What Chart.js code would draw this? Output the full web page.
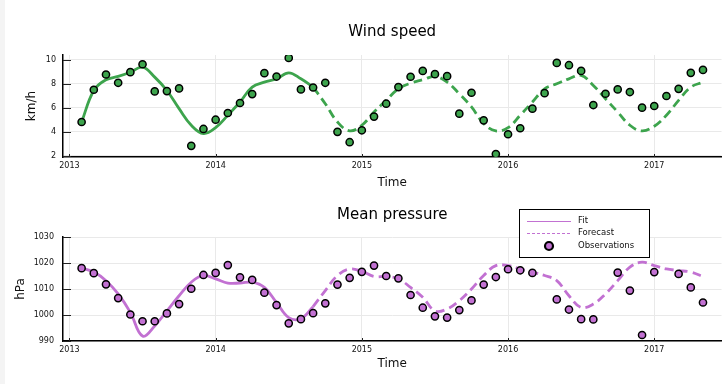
<!DOCTYPE html>
<html>
<head>
<meta charset="utf-8">
<script src="https://cdn.jsdelivr.net/npm/chart.js@4.4.1/dist/chart.umd.min.js"></script>
<style>
  html, body { margin: 0; padding: 0; background: #fff; }
  #wrap { position: relative; width: 727px; height: 384px; overflow: hidden; }
  #edge { position: absolute; left: 0; top: 0; width: 5px; height: 384px; background: #f4f4f4; }
  canvas { position: absolute; left: 0; }
  #windCanvas { top: 0; }
  #pressureCanvas { top: 192px; }
</style>
</head>
<body>
<div id="wrap">
  <div id="edge"></div>
  <canvas id="windCanvas" width="727" height="192"></canvas>
  <canvas id="pressureCanvas" width="727" height="192"></canvas>
</div>
<script>
// Monthly means, Feb 2013 - May 2017
const months = [
  '2013-02','2013-03','2013-04','2013-05','2013-06','2013-07','2013-08','2013-09','2013-10','2013-11','2013-12',
  '2014-01','2014-02','2014-03','2014-04','2014-05','2014-06','2014-07','2014-08','2014-09','2014-10','2014-11','2014-12',
  '2015-01','2015-02','2015-03','2015-04','2015-05','2015-06','2015-07','2015-08','2015-09','2015-10','2015-11','2015-12',
  '2016-01','2016-02','2016-03','2016-04','2016-05','2016-06','2016-07','2016-08','2016-09','2016-10','2016-11','2016-12',
  '2017-01','2017-02','2017-03','2017-04','2017-05'
];
const fitMonths = months.slice(0, 20);        // 2013-02 .. 2014-09
const forecastMonths = months.slice(19);      // 2014-09 .. 2017-05

const yearTicks = [2013, 2014, 2015, 2016, 2017];
const windTicks = [2, 4, 6, 8, 10];
const pressureTicks = [990, 1000, 1010, 1020, 1030];

// Wind speed (km/h)
const windObs = [
  4.81, 7.49, 8.76, 8.07, 8.95, 9.61, 7.35, 7.38, 7.60, 2.83, 4.23,
  5.00, 5.56, 6.39, 7.13, 8.87, 8.59, 10.14, 7.52, 7.68, 8.07, 3.99, 3.13,
  4.12, 5.26, 6.33, 7.71, 8.57, 9.06, 8.79, 8.62, 5.50, 7.24, 4.95, 2.14,
  3.79, 4.29, 5.92, 7.21, 9.72, 9.53, 9.06, 6.22, 7.16, 7.52, 7.30, 6.00,
  6.14, 6.97, 7.57, 8.90, 9.14
];
const windFit = [
  4.80, 7.43, 8.32, 8.60, 8.95, 9.37, 8.54, 7.43, 5.92, 4.54, 3.85,
  4.34, 5.37, 6.47, 7.71, 8.12, 8.40, 8.90, 8.40, 7.71
];
const windForecast = [
  7.71, 6.33, 4.81, 4.07,
  4.54, 5.64, 6.61, 7.57, 8.04, 8.32, 8.60, 8.12, 7.16, 6.06, 4.68, 4.07,
  4.34, 5.37, 6.47, 7.57, 7.99, 8.40, 8.68, 7.85, 6.74, 5.64, 4.54, 4.07,
  4.46, 5.37, 6.61, 7.71, 8.12
];

// Mean pressure (hPa); null = month without a valid reading
const pressureObs = [
  1018.0, 1016.1, 1011.8, 1006.5, 1000.2, 997.6, 997.6, 1000.6, 1004.2, 1010.1, 1015.4,
  1016.2, 1019.2, 1014.5, 1013.5, 1008.6, 1003.8, 996.8, 998.4, 1000.7, 1004.5, 1011.7, 1014.3,
  1016.6, 1019.0, 1015.0, 1014.1, 1007.7, 1002.8, 999.5, 999.0, 1001.9, 1005.6, 1011.7, 1014.6,
  1017.6, 1017.2, 1016.2, null, 1006.0, 1002.1, 998.4, 998.3, null, 1016.3, 1009.4, 992.3,
  1016.5, null, 1015.8, 1010.6, 1004.8
];
const pressureFit = [
  1018.0, 1016.5, 1013.2, 1008.1, 1001.0, 991.9, 995.8, 1001.6, 1007.4, 1012.6, 1015.2,
  1013.9, 1012.3, 1012.3, 1012.6, 1010.6, 1004.8, 999.0, 998.6, 1003.2
];
const pressureForecast = [
  1003.2, 1009.4, 1015.2, 1017.7,
  1016.8, 1014.8, 1014.8, 1013.9, 1010.6, 1006.8, 1001.6, 1002.3, 1005.5, 1010.0, 1015.2, 1019.0,
  1019.0, 1017.7, 1016.5, 1015.2, 1013.2, 1007.4, 1002.9, 1004.2, 1008.1, 1013.2, 1018.4, 1020.3,
  1019.0, 1017.7, 1017.1, 1016.5, 1014.8
];

const GREEN = '#3da44d';
const PURPLE = '#c271d2';
const FONT = 'DejaVu Sans';

// "2014-03" -> 2014 + 2/12 (decimal year on a linear axis)
function monthToYear(m) {
  const [y, mo] = m.split('-').map(Number);
  return y + (mo - 1) / 12;
}
function toPoints(labels, values) {
  return labels.map((m, i) => ({ x: monthToYear(m), y: values[i] }));
}

// Title centred over the plotting area
function titlePlugin(text, y) {
  return {
    id: 'plotTitle',
    afterDraw(chart) {
      const { ctx, chartArea } = chart;
      ctx.save();
      ctx.font = '15px "' + FONT + '"';
      ctx.fillStyle = '#000';
      ctx.textAlign = 'center';
      ctx.textBaseline = 'middle';
      ctx.fillText(text, (chartArea.left + chartArea.right) / 2, y);
      ctx.restore();
    }
  };
}

// Short tick marks pointing into the plotting area
const innerTicks = {
  id: 'innerTicks',
  beforeDatasetsDraw(chart) {
    const { ctx, chartArea, scales } = chart;
    ctx.save();
    ctx.strokeStyle = '#222';
    ctx.lineWidth = 1;
    ctx.beginPath();
    scales.y.ticks.forEach(t => {
      const py = Math.round(scales.y.getPixelForValue(t.value)) + 0.5;
      ctx.moveTo(chartArea.left, py);
      ctx.lineTo(chartArea.left + 8, py);
    });
    scales.x.ticks.forEach(t => {
      const px = Math.round(scales.x.getPixelForValue(t.value)) + 0.5;
      ctx.moveTo(px, chartArea.bottom);
      ctx.lineTo(px, chartArea.bottom - 3);
    });
    ctx.stroke();
    ctx.restore();
  }
};

// Boxed legend in the upper right of the pressure panel
const legendBox = {
  id: 'legendBox',
  afterDraw(chart) {
    const { ctx } = chart;
    const bx = 519, by = 17, bw = 130, bh = 48;
    ctx.save();
    ctx.fillStyle = '#fff';
    ctx.fillRect(bx, by, bw, bh);
    ctx.strokeStyle = '#000';
    ctx.lineWidth = 1;
    ctx.strokeRect(bx + 0.5, by + 0.5, bw, bh);

    ctx.strokeStyle = PURPLE;
    ctx.lineWidth = 1;
    ctx.beginPath();
    ctx.moveTo(527, 29.5); ctx.lineTo(571, 29.5);
    ctx.stroke();
    ctx.setLineDash([3, 2]);
    ctx.beginPath();
    ctx.moveTo(527, 41.5); ctx.lineTo(571, 41.5);
    ctx.stroke();
    ctx.setLineDash([]);

    ctx.beginPath();
    ctx.arc(549, 54, 4, 0, Math.PI * 2);
    ctx.fillStyle = PURPLE;
    ctx.fill();
    ctx.strokeStyle = '#000';
    ctx.lineWidth = 2.2;
    ctx.stroke();

    ctx.fillStyle = '#111';
    ctx.font = '8.5px "' + FONT + '"';
    ctx.textAlign = 'left';
    ctx.textBaseline = 'middle';
    ctx.fillText('Fit', 578, 29);
    ctx.fillText('Forecast', 578, 41);
    ctx.fillText('Observations', 578, 54);
    ctx.restore();
  }
};

function makeChart(canvasId, cfg) {
  const obsPts = toPoints(months, cfg.obs).filter(p => p.y !== null);
  return new Chart(document.getElementById(canvasId), {
    type: 'scatter',
    data: {
      datasets: [
        {
          label: 'Observations',
          data: obsPts,
          backgroundColor: cfg.color,
          borderColor: '#000',
          borderWidth: 1.5,
          pointRadius: 3.6,
          showLine: false
        },
        {
          label: 'Fit',
          data: toPoints(fitMonths, cfg.fit),
          borderColor: cfg.color,
          borderWidth: 2.8,
          pointRadius: 0,
          showLine: true,
          tension: 0.4
        },
        {
          label: 'Forecast',
          data: toPoints(forecastMonths, cfg.forecast),
          borderColor: cfg.color,
          borderWidth: 2.8,
          borderDash: [9, 5],
          pointRadius: 0,
          showLine: true,
          tension: 0.4
        }
      ]
    },
    options: {
      responsive: false,
      animation: false,
      devicePixelRatio: 1,
      layout: { padding: { top: cfg.padTop, right: 4, left: 0, bottom: 0 } },
      plugins: { legend: { display: false }, tooltip: { enabled: false } },
      scales: {
        x: {
          type: 'linear',
          min: 2012.956,
          max: 2017.46,
          afterBuildTicks(scale) { scale.ticks = yearTicks.map(v => ({ value: v })); },
          afterFit(scale) { scale.height = cfg.xHeight; },
          grid: { color: '#e9e9e9', lineWidth: 1, drawTicks: false },
          border: { display: true, color: '#000', width: 1.5 },
          ticks: {
            padding: 4,
            color: '#111',
            font: { family: FONT, size: 8 },
            maxRotation: 0,
            callback: v => String(v)
          },
          title: {
            display: true,
            text: 'Time',
            color: '#111',
            font: { family: FONT, size: 12 },
            padding: { top: 0, bottom: cfg.timePad }
          }
        },
        y: {
          min: cfg.yMin,
          max: cfg.yMax,
          afterBuildTicks(scale) { scale.ticks = cfg.yTicks.map(v => ({ value: v })); },
          afterFit(scale) { scale.width = 63; },
          grid: { color: '#e9e9e9', lineWidth: 1, drawTicks: false },
          border: { display: true, color: '#000', width: 1.5 },
          ticks: {
            padding: cfg.yLabelPad,
            color: '#111',
            font: { family: FONT, size: 8 },
            callback: v => String(v)
          },
          title: {
            display: true,
            text: cfg.yTitle,
            color: '#111',
            font: { family: FONT, size: 12 },
            padding: { top: cfg.yTitlePad, bottom: 0 }
          }
        }
      }
    },
    plugins: cfg.plugins
  });
}

makeChart('windCanvas', {
  obs: windObs, fit: windFit, forecast: windForecast, color: GREEN,
  yMin: 1.9, yMax: 10.38, yTicks: windTicks, yTitle: 'km/h',
  padTop: 55, xHeight: 35, timePad: 2, yTitlePad: 25, yLabelPad: 7,
  plugins: [titlePlugin('Wind speed', 32), innerTicks]
});

makeChart('pressureCanvas', {
  obs: pressureObs, fit: pressureFit, forecast: pressureForecast, color: PURPLE,
  yMin: 990, yMax: 1030, yTicks: pressureTicks, yTitle: 'hPa',
  padTop: 45, xHeight: 43, timePad: 13, yTitlePad: 14, yLabelPad: 9,
  plugins: [titlePlugin('Mean pressure', 23), innerTicks, legendBox]
});
</script>
</body>
</html>
